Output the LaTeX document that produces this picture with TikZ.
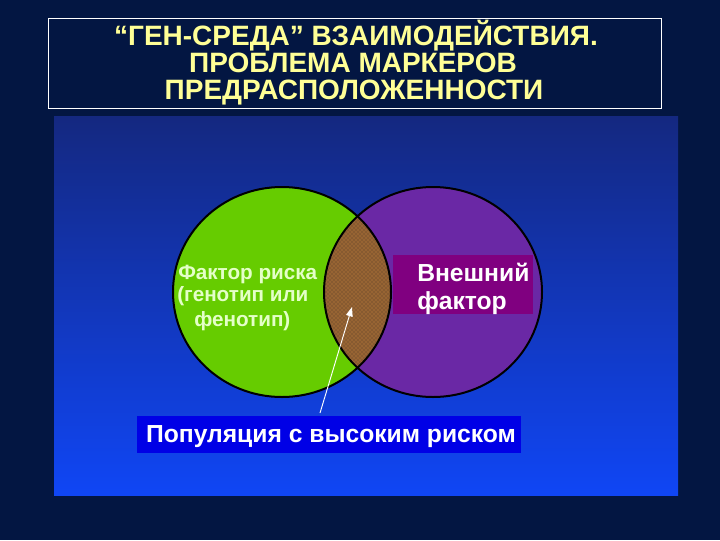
\documentclass[tikz,border=0pt]{standalone}
\usepackage{fontspec}
\setmainfont{Liberation Sans}
\usetikzlibrary{arrows.meta,patterns}
\definecolor{bgnavy}{RGB}{3,22,66}
\definecolor{titleyel}{RGB}{255,255,150}
\definecolor{panelTop}{RGB}{20,40,128}
\definecolor{panelBot}{RGB}{16,70,245}
\definecolor{greenc}{RGB}{102,204,0}
\definecolor{purplec}{RGB}{106,40,165}
\definecolor{overlapc}{RGB}{135,90,48}
\definecolor{overlapdot}{RGB}{205,135,62}
\definecolor{magbox}{RGB}{128,0,128}
\definecolor{bluebox}{RGB}{0,0,230}
\definecolor{palegreen}{RGB}{228,255,200}
\tikzset{
  titletext/.style={text=titleyel, font=\fontsize{21}{24}\selectfont\bfseries, inner sep=0, anchor=base},
  circline/.style={draw=black, line width=1.5pt},
  whitelabel/.style={text=white, font=\fontsize{18.5}{22}\selectfont\bfseries, inner sep=0, anchor=base west},
  lefttext/.style={text=palegreen, font=\fontsize{15.5}{18}\selectfont\bfseries, inner sep=0, anchor=base west},
}
\begin{document}
\begin{tikzpicture}[x=0.75pt,y=-0.75pt]
\useasboundingbox (0,0) rectangle (720,540);
\fill[bgnavy] (0,0) rectangle (720,540);
% title box
\node[draw=white, line width=0.6pt, fill=bgnavy, minimum width=613*0.75pt, minimum height=90*0.75pt, inner sep=0] (titlebox) at (354.5,63) {};
\node[titletext] (t1) at (356,45) {“ГЕН-СРЕДА” ВЗАИМОДЕЙСТВИЯ.};
\node[titletext] (t2) at (353,72) {ПРОБЛЕМА МАРКЕРОВ};
\node[titletext] (t3) at (354,99) {ПРЕДРАСПОЛОЖЕННОСТИ};
% panel
\shade[top color=panelTop, bottom color=panelBot] (54,116) rectangle (678,495);
% circles
\fill[greenc] (282,292) ellipse [x radius=109, y radius=105];
\fill[purplec] (433,292) ellipse [x radius=109, y radius=105];
\begin{scope}
  \clip (282,292) ellipse [x radius=109, y radius=105];
  \fill[overlapc] (433,292) ellipse [x radius=109, y radius=105];
  \fill[pattern=crosshatch dots, pattern color=overlapdot] (433,292) ellipse [x radius=109, y radius=105];
\end{scope}
\draw[circline] (282,292) ellipse [x radius=109, y radius=105];
\draw[circline] (433,292) ellipse [x radius=109, y radius=105];
% magenta label box
\node[fill=magbox, minimum width=140*0.75pt, minimum height=59*0.75pt, inner sep=0] (magrect) at (463,284.5) {};
\node[whitelabel] (ext1) at (417,281) {Внешний};
\node[whitelabel] (ext2) at (417,309) {фактор};
% left text
\node[lefttext] (r1) at (178,279) {Фактор риска};
\node[lefttext] (r2) at (177,301) {(генотип или};
\node[lefttext] (r3) at (194,326) {фенотип)};
% bottom box
\node[fill=bluebox, minimum width=384*0.75pt, minimum height=37*0.75pt, inner sep=0] (popbox) at (329,434.5) {};
\node[text=white, font=\fontsize{18.5}{22}\selectfont\bfseries, inner sep=0, anchor=base] (pop) at (331,442) {Популяция с высоким риском};
% arrow
\coordinate (tip) at (352,307);
\coordinate (tail) at (320,413);
\draw[white, line width=0.7pt, -{Triangle[length=7pt,width=5pt]}] (tail) -- (tip);
\end{tikzpicture}
\end{document}
